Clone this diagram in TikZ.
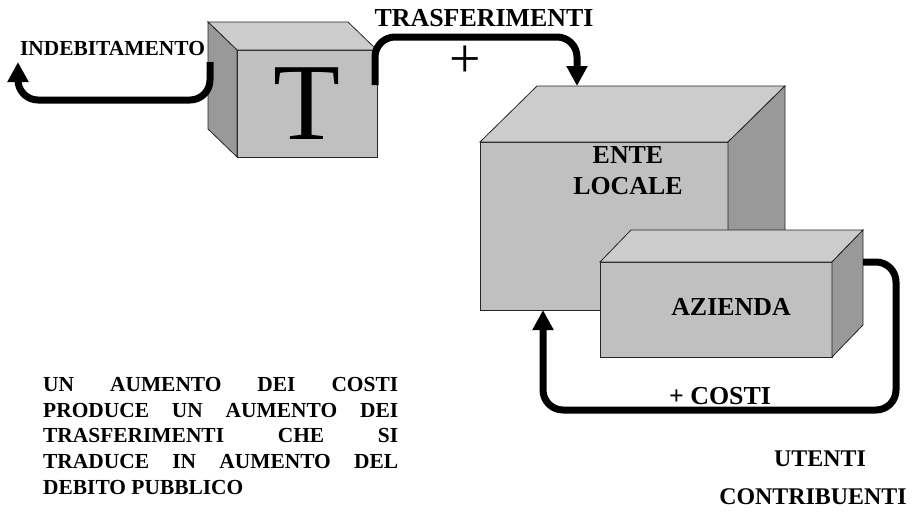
\documentclass[tikz,border=0pt]{standalone}
\usepackage{fontspec}
\setmainfont{Liberation Serif}
\usetikzlibrary{arrows.meta}
\definecolor{frontgray}{HTML}{C0C0C0}
\definecolor{topgray}{HTML}{CCCCCC}
\definecolor{sidegray}{HTML}{999999}

\begin{document}
\begin{tikzpicture}[
  face/.style={draw=black!85,line width=0.8bp,outer sep=0pt,inner sep=0pt},
  flow/.style={-{Triangle[length=20bp,width=20bp]},line width=7bp,rounded corners=20bp},
  lbl/.style={font=\fontsize{26}{31}\selectfont\bfseries,inner sep=0pt},
  small/.style={font=\fontsize{24}{24}\selectfont\bfseries,inner sep=0pt}]
\useasboundingbox (0bp,0bp) rectangle (915bp,-512bp);

% T cube
\node (T) at (307bp,-103.5bp)[face,fill=frontgray,minimum width=140bp,minimum height=107bp,font=\fontsize{110}{110}\selectfont] {T};
\filldraw[face,fill=topgray] (T.north west) -- ++(-29bp,28bp) -- ++(140bp,0) -- (T.north east) -- cycle;
\filldraw[face,fill=sidegray] (T.north west) -- ++(-29bp,28bp) -- ++(0,-107bp) -- (T.south west) -- cycle;

% ente locale cube
\node (E) at (604bp,-226bp)[face,fill=frontgray,minimum width=248bp,minimum height=168bp] {};
\filldraw[face,fill=topgray] (E.north west) -- ++(57bp,56bp) -- ++(248bp,0) -- (E.north east) -- cycle;
\filldraw[face,fill=sidegray] (E.north east) -- ++(57bp,56bp) -- ++(0,-168bp) -- (E.south east) -- cycle;
\node (Etxt) at (628bp,-171bp)[lbl,align=center] {ENTE\\LOCALE};

% azienda cube
\node (A) at (716bp,-309.5bp)[face,fill=frontgray,minimum width=232bp,minimum height=95bp] {};
\filldraw[face,fill=topgray] (A.north west) -- ++(31bp,32bp) -- ++(232bp,0) -- (A.north east) -- cycle;
\filldraw[face,fill=sidegray] (A.north east) -- ++(31bp,32bp) -- ++(0,-95bp) -- (A.south east) -- cycle;
\node (Atxt) at (731bp,-306.5bp)[lbl] {AZIENDA};

% flows
\coordinate (Tleft) at (210bp,-62bp);
\coordinate (debito) at (18bp,-62bp);
\coordinate (Tright) at (375bp,-85bp);
\coordinate (Etop) at (577bp,-86bp);
\coordinate (Aright) at (863bp,-262bp);
\coordinate (Ebottom) at (543bp,-310bp);
\draw [flow] (Tleft) -- ++(0,-38bp) -| (debito);
\draw [flow] (Tright) |- (476bp,-37bp) -| (Etop);
\draw [flow] (Aright) -- (896bp,-262bp) -- (896bp,-410bp) -| (Ebottom);

\node (indeb) at (112.5bp,-48.5bp)[font=\fontsize{21.5}{21.5}\selectfont\bfseries,inner sep=0pt] {INDEBITAMENTO};
\node (trasf) at (484bp,-18.5bp)[lbl] {TRASFERIMENTI};
\node (plus) at (465bp,-62bp)[font=\fontsize{56}{56}\selectfont,inner sep=0pt] {+};
\node (costi) at (720bp,-396bp)[lbl] {+ COSTI};
\node (utenti) at (820bp,-459bp)[small] {UTENTI};
\node (contrib) at (813bp,-497bp)[small] {CONTRIBUENTI};

\node (nota) at (43bp,-377bp)[anchor=north west,inner sep=0pt,align=left,font=\fontsize{21.5}{25.8}\selectfont\bfseries] {%
\makebox[355bp][s]{UN AUMENTO DEI COSTI}\\
\makebox[355bp][s]{PRODUCE UN AUMENTO DEI}\\
\makebox[355bp][s]{TRASFERIMENTI CHE SI}\\
\makebox[355bp][s]{TRADUCE IN AUMENTO DEL}\\
DEBITO PUBBLICO};
\end{tikzpicture}
\end{document}
